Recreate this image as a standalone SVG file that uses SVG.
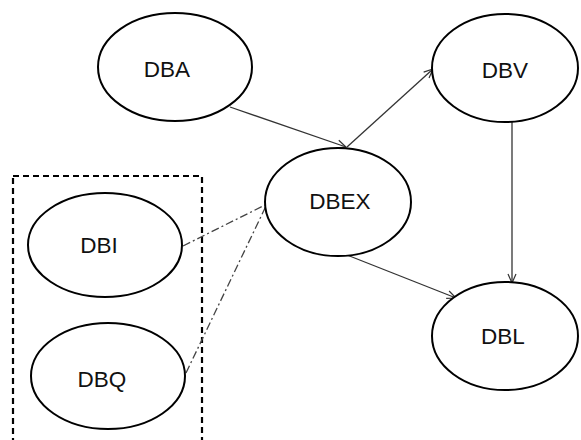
<svg xmlns="http://www.w3.org/2000/svg" width="581" height="440" viewBox="0 0 581 440">
<defs>
<marker id="arr" markerWidth="12" markerHeight="12" refX="10" refY="5" orient="auto" markerUnits="userSpaceOnUse">
<path d="M1,1 L10,5 L1,9" fill="none" stroke="#333" stroke-width="1.2"/>
</marker>
</defs>
<style>
.node ellipse{fill:#fff;stroke:#000;stroke-width:2}
.node text{font-family:"Liberation Sans",Arial,sans-serif;font-size:22.5px;fill:#111;text-anchor:middle}
.arrow{stroke:#333;stroke-width:1.3;fill:none;marker-end:url(#arr)}
.dd{stroke:#444;stroke-width:1.3;fill:none;stroke-dasharray:8 3 2 3}
</style>
<rect x="13" y="176" width="189" height="280" fill="none" stroke="#000" stroke-width="2.2" stroke-dasharray="6 4"/>
<g id="connectors">
<line class="arrow" x1="230" y1="107" x2="346" y2="147"/>
<line class="arrow" x1="347" y1="147" x2="433" y2="69"/>
<line class="arrow" x1="512" y1="122" x2="512" y2="283"/>
<line class="arrow" x1="347" y1="255" x2="456" y2="298"/>
<line class="dd" x1="183" y1="246" x2="267" y2="204"/>
<line class="dd" x1="186" y1="373" x2="267" y2="204"/>
</g>
<g id="DBA" class="node"><ellipse cx="175" cy="67" rx="77" ry="54"/><text x="167" y="77">DBA</text></g>
<g id="DBV" class="node"><ellipse cx="505" cy="68" rx="73" ry="54"/><text x="505" y="78">DBV</text></g>
<g id="DBEX" class="node"><ellipse cx="338" cy="202" rx="73" ry="54"/><text x="340" y="209">DBEX</text></g>
<g id="DBL" class="node"><ellipse cx="505" cy="336" rx="73" ry="54"/><text x="503" y="344">DBL</text></g>
<g id="DBI" class="node"><ellipse cx="105" cy="245" rx="77" ry="52"/><text x="99" y="253">DBI</text></g>
<g id="DBQ" class="node"><ellipse cx="108" cy="376" rx="77" ry="53"/><text x="102" y="387">DBQ</text></g>
</svg>
